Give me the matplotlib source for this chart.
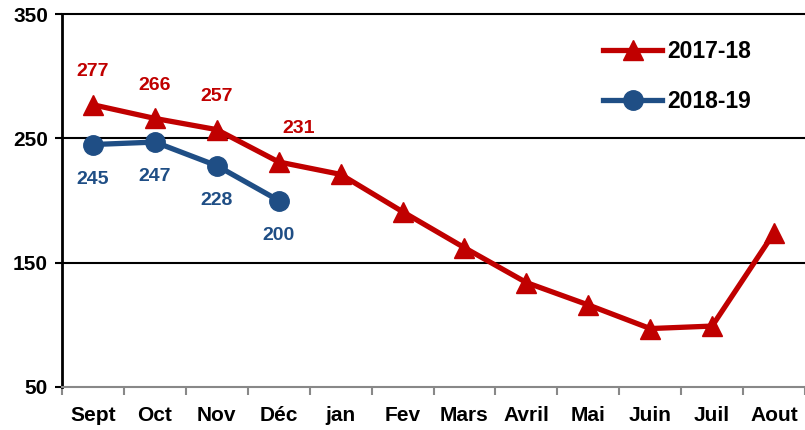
import matplotlib
matplotlib.use("Agg")
import matplotlib.pyplot as plt
import numpy as np

plt.rcParams['font.family'] = ['Liberation Sans', 'DejaVu Sans']
plt.rcParams['font.weight'] = 'bold'

months = ["Sept", "Oct", "Nov", "Déc", "jan", "Fev", "Mars", "Avril", "Mai", "Juin", "Juil", "Aout"]
s2017 = [277, 266, 257, 231, 221, 191, 162, 134, 116, 97, 99, 174]
s2018 = [245, 247, 228, 200]
labels2017 = ["277", "266", "257", "231"]
labels2018 = ["245", "247", "228", "200"]
yticks = [50, 150, 250, 350]

red = "#C00000"
blue = "#1F4E85"

fig = plt.figure(figsize=(8.05, 4.3), dpi=100)
ax = fig.add_axes([62/805, 43/430, 1 - 62/805, (387-14)/430])

x = np.arange(len(months))
ax.plot(x, s2017, color=red, lw=3.8, marker='^', ms=15, label="2017-18", zorder=3)
ax.plot(x[:len(s2018)], s2018, color=blue, lw=3.8, marker='o', ms=14, label="2018-19", zorder=4)

for i, t in enumerate(labels2017):
    dx = 14 if i == 3 else 0
    ax.annotate(t, (x[i], s2017[i]), xytext=(dx, 24), textcoords='offset points',
                ha='center', va='center', color=red, fontsize=14, fontweight='bold')
for i, t in enumerate(labels2018):
    ax.annotate(t, (x[i], s2018[i]), xytext=(0, -25), textcoords='offset points',
                ha='center', va='center', color=blue, fontsize=14, fontweight='bold')

ax.set_xlim(-0.5, len(months) - 0.5)
ax.set_ylim(50, 350)
ax.set_yticks(yticks)
ax.set_yticklabels([str(v) for v in yticks], fontsize=15, fontweight='bold')
ax.set_xticks(x)
ax.set_xticklabels(months, fontsize=15, fontweight='bold')
ax.set_xticks(np.arange(-0.5, len(months)), minor=True)
ax.tick_params(axis='x', which='major', length=0, pad=14)
ax.tick_params(axis='x', which='minor', length=6, width=1.5, color='#888888', direction='out')
ax.tick_params(axis='y', length=5, width=1.5, color='black', pad=5)

for v in yticks[1:]:
    ax.axhline(v, color='black', lw=1.5, zorder=1, clip_on=False)

ax.spines['right'].set_visible(False)
ax.spines['top'].set_visible(False)
ax.spines['left'].set_linewidth(2)
ax.spines['bottom'].set_color('#888888')
ax.spines['bottom'].set_linewidth(1.5)

leg = ax.legend(loc='upper right', bbox_to_anchor=(0.955, 0.985), frameon=False,
                prop={'size': 16.5, 'weight': 'bold'}, handlelength=2.6, handletextpad=0.2,
                labelspacing=1.15)

fig.savefig("out.png", dpi=100)
